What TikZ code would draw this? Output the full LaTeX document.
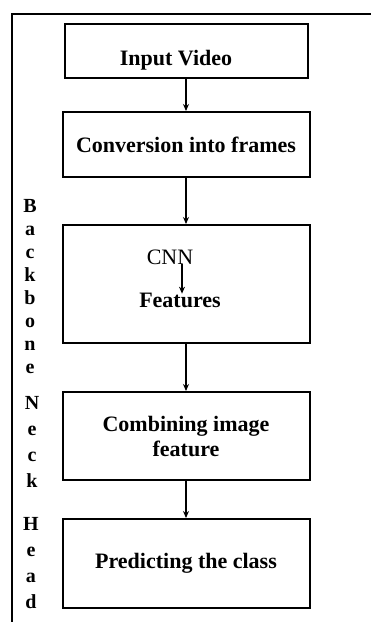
\documentclass[tikz,border=0pt]{standalone}
\usepackage{fontspec}
\setmainfont{Liberation Serif}
\usetikzlibrary{positioning,arrows.meta}

\begin{document}
\begin{tikzpicture}
[x=1pt,y=1pt,line width=2pt,>={Stealth[length=7pt,width=6pt]},
 stage/.style={draw,rectangle,minimum width=247pt,align=center,inner sep=0pt,
   font=\fontsize{22}{25}\selectfont\bfseries},
 side/.style={align=center,inner sep=0pt,font=\fontsize{20}{23}\selectfont\bfseries}]
\useasboundingbox (0,0) rectangle (371,-622);

% frame
\draw (371,-14) -- (12,-14) -- (12,-622);

% nodes
\node [stage, minimum height=54pt, minimum width=243pt] (video) at (186,-51) {};
\node [stage, minimum height=65pt, below=32pt of video] (frames) {Conversion into frames};
\node [stage, minimum height=118pt, below=46pt of frames] (cnnbox) {};
\node [stage, minimum height=88pt, below=47pt of cnnbox] (combine) {Combining image\\feature};
\node [stage, minimum height=89pt, below=37pt of combine] (predict) {Predicting the class};

% nodes 2
\node [inner sep=0pt, font=\fontsize{22}{25}\selectfont\bfseries] (videotext) at ([shift={(-10,-9)}]video.center) {Input Video};
\node [inner sep=0pt, font=\fontsize{22}{25}\selectfont] (cnn) at ([shift={(-16,27)}]cnnbox.center) {CNN};
\node [inner sep=0pt, font=\fontsize{22}{25}\selectfont\bfseries] (feat) at ([shift={(-6,-16)}]cnnbox.center) {Features};
\coordinate (c1) at ([xshift=12pt]cnn.base);
\coordinate (c2) at ([yshift=-2pt]c1 |- feat.north);

% arrows
\draw [->] (video) -- (frames);
\draw [->] (frames) -- (cnnbox);
\draw [->] (cnnbox) -- (combine);
\draw [->] (combine) -- (predict);
\draw [->] (c1) -- (c2);

% side labels
\node [side] (backbone) at (30,-287) {B\\a\\c\\k\\b\\o\\n\\e};
\node [side, font=\fontsize{20}{26}\selectfont\bfseries] (neck) at (32,-442) {N\\e\\c\\k};
\node [side, font=\fontsize{20}{25.7}\selectfont\bfseries] (head) at (31,-563) {H\\e\\a\\d};

\end{tikzpicture}
\end{document}
